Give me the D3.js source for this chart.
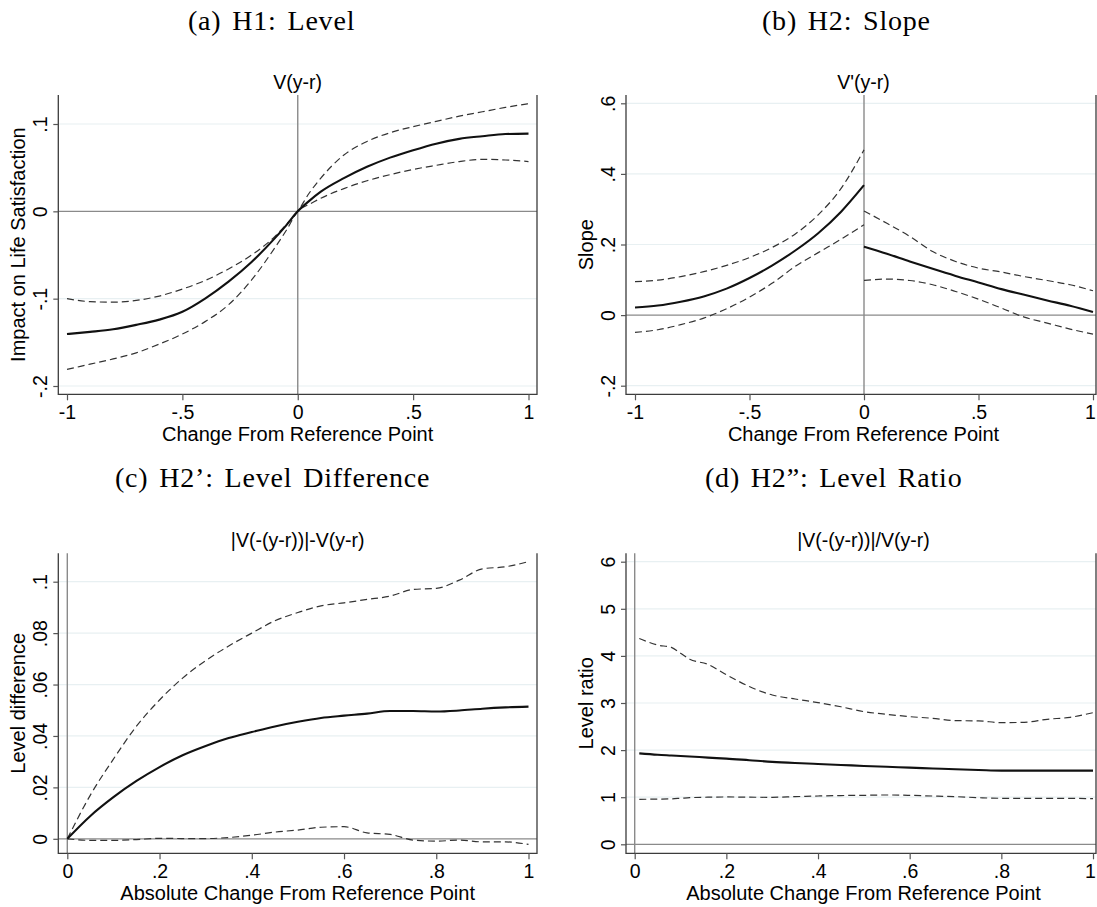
<!DOCTYPE html>
<html>
<head>
<meta charset="utf-8">
<script src="https://cdn.jsdelivr.net/npm/d3@7"></script>
<style>
  body { margin: 0; background: #fff; }
  svg text { font-family: "Liberation Sans", Arial, sans-serif; fill: #000; }
  .head { font-family: "Liberation Serif", "Times New Roman", serif !important; }
</style>
</head>
<body>
<svg id="fig" width="1097" height="907"></svg>
<script>
// ---- data ----
// (a) V(y-r)
const xA = [-1, -0.9, -0.8, -0.7, -0.6, -0.5, -0.4, -0.3, -0.2, -0.1, -0.05, 0, 0.05, 0.1, 0.2, 0.3, 0.4, 0.5, 0.6, 0.7, 0.8, 0.9, 1];
const levelEst = [-0.1405, -0.138, -0.135, -0.130, -0.124, -0.115, -0.0996, -0.0805, -0.058, -0.031, -0.016, 0, 0.012, 0.0225, 0.038, 0.051, 0.0615, 0.070, 0.0775, 0.083, 0.086, 0.0885, 0.089];
const levelHi  = [-0.100, -0.1034, -0.104, -0.102, -0.097, -0.089, -0.079, -0.066, -0.050, -0.029, -0.015, 0, 0.021, 0.038, 0.0645, 0.080, 0.090, 0.097, 0.103, 0.109, 0.114, 0.119, 0.1233];
const levelLo  = [-0.181, -0.175, -0.169, -0.162, -0.152, -0.1405, -0.126, -0.107, -0.0786, -0.042, -0.022, 0, 0.008, 0.015, 0.026, 0.035, 0.042, 0.048, 0.0527, 0.057, 0.0595, 0.0588, 0.057];

// (b) V'(y-r), split at 0
const xBneg = [-1, -0.9, -0.8, -0.7, -0.6, -0.5, -0.4, -0.3, -0.2, -0.1, 0];
const slopeNegEst = [0.0217, 0.027, 0.038, 0.053, 0.075, 0.105, 0.141, 0.183, 0.232, 0.293, 0.368];
const slopeNegHi  = [0.095, 0.099, 0.109, 0.123, 0.141, 0.163, 0.192, 0.230, 0.284, 0.359, 0.468];
const slopeNegLo  = [-0.049, -0.0415, -0.027, -0.0085, 0.018, 0.051, 0.0906, 0.138, 0.177, 0.215, 0.256];
const xBpos = [0, 0.1, 0.2, 0.3, 0.4, 0.5, 0.6, 0.7, 0.8, 0.9, 1];
const slopePosEst = [0.194, 0.174, 0.152, 0.131, 0.111, 0.0925, 0.0736, 0.0575, 0.0415, 0.0264, 0.0085];
const slopePosHi  = [0.295, 0.260, 0.223, 0.180, 0.152, 0.133, 0.122, 0.109, 0.098, 0.086, 0.069];
const slopePosLo  = [0.098, 0.102, 0.098, 0.086, 0.067, 0.045, 0.020, -0.0057, -0.0226, -0.0396, -0.054];

// (c) |V(-(y-r))|-V(y-r)
const xC = [0, 0.05, 0.1, 0.15, 0.2, 0.25, 0.3, 0.35, 0.4, 0.45, 0.5, 0.55, 0.6, 0.65, 0.7, 0.75, 0.8, 0.85, 0.9, 0.95, 1];
const diffEst = [0, 0.0089, 0.0162, 0.0225, 0.0279, 0.0325, 0.0361, 0.0392, 0.0415, 0.0437, 0.0455, 0.047, 0.0479, 0.0487, 0.0497, 0.0497, 0.0495, 0.0499, 0.0506, 0.0511, 0.0514];
const diffHi  = [0, 0.017, 0.031, 0.0438, 0.054, 0.0625, 0.0693, 0.075, 0.080, 0.0848, 0.088, 0.0906, 0.0918, 0.0931, 0.0944, 0.097, 0.0974, 0.1006, 0.105, 0.1058, 0.1078];
const diffLo  = [0, -0.0006, -0.0006, -0.0003, 0.0002, 0.0001, 0.0001, 0.0005, 0.0014, 0.0026, 0.0034, 0.0045, 0.0047, 0.0023, 0.0017, -0.0005, -0.0009, -0.0005, -0.0012, -0.0012, -0.0022];

// (d) |V(-(y-r))|/V(y-r)
const xD = [0.01, 0.05, 0.08, 0.1, 0.12, 0.16, 0.2, 0.25, 0.3, 0.35, 0.4, 0.45, 0.5, 0.55, 0.6, 0.65, 0.7, 0.75, 0.8, 0.85, 0.9, 0.95, 1];
const ratioEst = [1.93, 1.90, 1.885, 1.875, 1.865, 1.84, 1.82, 1.785, 1.75, 1.725, 1.705, 1.685, 1.663, 1.645, 1.628, 1.61, 1.592, 1.578, 1.564, 1.564, 1.564, 1.564, 1.564];
const ratioHi  = [4.37, 4.23, 4.18, 4.055, 3.93, 3.82, 3.6, 3.35, 3.17, 3.085, 3.008, 2.92, 2.817, 2.76, 2.71, 2.675, 2.626, 2.62, 2.583, 2.59, 2.654, 2.696, 2.795];
const ratioLo  = [0.955, 0.96, 0.965, 0.977, 0.99, 1.0, 1.005, 1.0, 0.998, 1.012, 1.026, 1.035, 1.04, 1.047, 1.04, 1.025, 1.012, 0.99, 0.977, 0.977, 0.977, 0.975, 0.97];

const xTicksSym = [-1, -0.5, 0, 0.5, 1];
const xTicksAbs = [0, 0.2, 0.4, 0.6, 0.8, 1];
const yTicksA = [-0.2, -0.1, 0, 0.1];
const yTicksB = [-0.2, 0, 0.2, 0.4, 0.6];
const yTicksC = [0, 0.02, 0.04, 0.06, 0.08, 0.1];
const yTicksD = [0, 1, 2, 3, 4, 5, 6];

const headings = ["(a) H1: Level", "(b) H2: Slope", "(c) H2\u2019:  Level Difference", "(d) H2\u201D:  Level Ratio"];

// ---- layout ----
const svg = d3.select("#fig");
const fmt = v => (v === 0 ? "0" : String(+v.toFixed(4)).replace(/^(-?)0\./, "$1."));

function panel(cfg) {
  const x = d3.scaleLinear().domain(cfg.xd).range(cfg.xr);
  const y = d3.scaleLinear().domain(cfg.yd).range(cfg.yr);
  const g = svg.append("g");

  // grid
  g.selectAll(".grid").data(cfg.yTicks.filter(d => d !== 0)).enter()
    .append("line")
    .attr("x1", cfg.left).attr("x2", cfg.right)
    .attr("y1", d => y(d)).attr("y2", d => y(d))
    .attr("stroke", "#e8f0f2").attr("stroke-width", 1.2);

  // reference lines
  g.append("line").attr("x1", cfg.left).attr("x2", cfg.right)
    .attr("y1", y(0)).attr("y2", y(0))
    .attr("stroke", "#8a8a8a").attr("stroke-width", 1.2);
  g.append("line").attr("x1", x(0)).attr("x2", x(0))
    .attr("y1", cfg.top).attr("y2", cfg.bottom)
    .attr("stroke", "#8a8a8a").attr("stroke-width", 1.4);

  // series
  const line = d3.line().x(d => x(d[0])).y(d => y(d[1])).curve(d3.curveMonotoneX);
  cfg.series.forEach(s => {
    g.append("path")
      .attr("d", line(d3.zip(s.x, s.y)))
      .attr("fill", "none")
      .attr("stroke", s.dash ? "#333" : "#111")
      .attr("stroke-width", s.dash ? 1.2 : 2.1)
      .attr("stroke-dasharray", s.dash ? "7,4" : null);
  });

  // frame: left, bottom, right
  g.append("path")
    .attr("d", `M${cfg.left},${cfg.top}V${cfg.bottom}H${cfg.right}V${cfg.top}`)
    .attr("fill", "none").attr("stroke", "#3c3c3c").attr("stroke-width", 1.3);

  // axes
  const xa = g.append("g").attr("transform", `translate(0,${cfg.bottom})`)
    .call(d3.axisBottom(x).tickValues(cfg.xTicks).tickFormat(fmt).tickSize(6).tickSizeOuter(0));
  const ya = g.append("g").attr("transform", `translate(${cfg.left},0)`)
    .call(d3.axisLeft(y).tickValues(cfg.yTicks).tickFormat(fmt).tickSize(5).tickSizeOuter(0));
  [xa, ya].forEach(a => {
    a.select(".domain").remove();
    a.selectAll(".tick line").attr("stroke", "#555").attr("stroke-width", 1.2);
    a.selectAll("text").style("font-size", "19.5px").attr("fill", "#000");
  });
  xa.selectAll("text").attr("dy", null).attr("y", 24.5)
    .attr("dx", d => (x(d) > 1088 ? -3 : null));
  ya.selectAll("text")
    .attr("transform", "rotate(-90)")
    .attr("x", 0).attr("y", -11.5).attr("dy", null)
    .attr("text-anchor", "middle");

  const cx = (cfg.left + cfg.rightC) / 2;
  const cy = (cfg.top + cfg.bottom) / 2;
  g.append("text").attr("x", cx).attr("y", cfg.top - 6)
    .attr("text-anchor", "middle").style("font-size", "19.5px").text(cfg.title);
  g.append("text").attr("x", cx).attr("y", cfg.bottom + 46.5)
    .attr("text-anchor", "middle").style("font-size", "20px").text(cfg.xlabel);
  g.append("text")
    .attr("transform", `translate(${cfg.left - 33},${cy}) rotate(-90)`)
    .attr("text-anchor", "middle").style("font-size", "20px").text(cfg.ylabel);
}

panel({
  left: 58.3, right: 537, rightC: 537, top: 95, bottom: 394.3,
  xd: [-1, 1], xr: [67, 528.5], yd: [-0.2, 0.1], yr: [386, 124],
  xTicks: xTicksSym, yTicks: yTicksA,
  title: "V(y-r)", xlabel: "Change From Reference Point", ylabel: "Impact on Life Satisfaction",
  series: [
    { x: xA, y: levelHi, dash: true },
    { x: xA, y: levelLo, dash: true },
    { x: xA, y: levelEst }
  ]
});

panel({
  left: 626, right: 1096, rightC: 1101, top: 95, bottom: 394.3,
  xd: [-1, 1], xr: [635, 1093], yd: [-0.2, 0.6], yr: [385.7, 103.3],
  xTicks: xTicksSym, yTicks: yTicksB,
  title: "V'(y-r)", xlabel: "Change From Reference Point", ylabel: "Slope",
  series: [
    { x: xBneg, y: slopeNegHi, dash: true },
    { x: xBneg, y: slopeNegLo, dash: true },
    { x: xBneg, y: slopeNegEst },
    { x: xBpos, y: slopePosHi, dash: true },
    { x: xBpos, y: slopePosLo, dash: true },
    { x: xBpos, y: slopePosEst }
  ]
});

panel({
  left: 58.3, right: 537, rightC: 537, top: 553.3, bottom: 853.3,
  xd: [0, 1], xr: [67.3, 528.5], yd: [0, 0.1], yr: [838.8, 581.7],
  xTicks: xTicksAbs, yTicks: yTicksC,
  title: "|V(-(y-r))|-V(y-r)", xlabel: "Absolute Change From Reference Point", ylabel: "Level difference",
  series: [
    { x: xC, y: diffHi, dash: true },
    { x: xC, y: diffLo, dash: true },
    { x: xC, y: diffEst }
  ]
});

panel({
  left: 626, right: 1096, rightC: 1101, top: 553.3, bottom: 853.3,
  xd: [0, 1], xr: [634.7, 1093], yd: [0, 6], yr: [844.3, 561.7],
  xTicks: xTicksAbs, yTicks: yTicksD,
  title: "|V(-(y-r))|/V(y-r)", xlabel: "Absolute Change From Reference Point", ylabel: "Level ratio",
  series: [
    { x: xD, y: ratioHi, dash: true },
    { x: xD, y: ratioLo, dash: true },
    { x: xD, y: ratioEst }
  ]
});

// sub-figure headings
const headPos = [[188, 30], [762, 30], [115, 487], [705, 487]];
headings.forEach((h, i) => {
  svg.append("text").attr("class", "head")
    .attr("x", headPos[i][0]).attr("y", headPos[i][1])
    .style("font-size", "28px").style("letter-spacing", "0.8px").style("word-spacing", "3px")
    .text(h);
});
</script>
</body>
</html>
